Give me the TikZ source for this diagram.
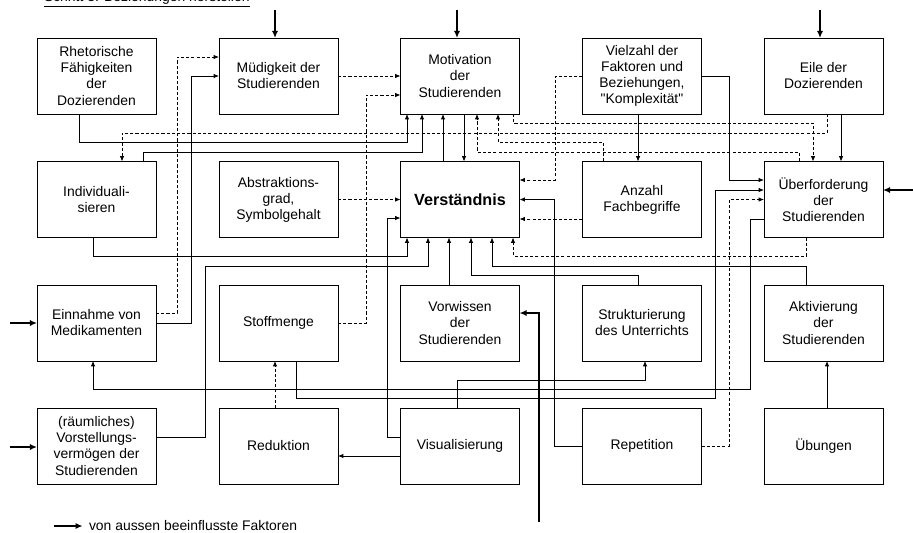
\documentclass[tikz,border=0pt]{standalone}
\usepackage{fontspec}
\setmainfont{Liberation Sans}[Ligatures=TeXOff]
\usetikzlibrary{arrows.meta}

\begin{document}
\begin{tikzpicture}[x=0.25mm,y=-0.25mm,inner sep=0pt,outer sep=0pt,line width=0.6pt,
>={Latex[length=3.8pt,width=3.2pt]},
faktor/.style={draw,rectangle,minimum width=29.75mm,minimum height=19mm,align=center,font=\fontsize{9.9}{11.4}\selectfont},
indirekt/.style={dash pattern=on 2.2pt off 1.5pt},
aussen/.style={-{Latex[length=5pt,width=4.4pt]},line width=1.4pt}]

\useasboundingbox (0,0) rectangle (913,532);

\draw (44,1.5) node[anchor=base west,font=\fontsize{9.9}{11.4}\selectfont] (titel) {\underline{Schritt 3: Beziehungen herstellen}};

% Faktoren
\draw (96.5,76) node[faktor] (rhet) {Rhetorische\\Fähigkeiten\\der\\Dozierenden};
\draw (278.5,76) node[faktor] (muedig) {Müdigkeit der\\Studierenden};
\draw (460,76) node[faktor] (motiv) {Motivation\\der\\Studierenden};
\draw (642,76) node[faktor] (viel) {Vielzahl der\\Faktoren und\\Beziehungen,\\"Komplexität"};
\draw (823.5,76) node[faktor] (eile) {Eile der\\Dozierenden};

\draw (96.5,199.5) node[faktor] (indiv) {Individuali-\\sieren};
\draw (278.5,199.5) node[faktor] (abstr) {Abstraktions-\\grad,\\Symbolgehalt};
\draw (460,199.5) node[faktor,font=\fontsize{11.5}{13}\selectfont\bfseries] (verst) {Verständnis};
\draw (642,199.5) node[faktor] (anzahl) {Anzahl\\Fachbegriffe};
\draw (823.5,199.5) node[faktor] (ueber) {Überforderung\\der\\Studierenden};

\draw (96.5,323) node[faktor] (einn) {Einnahme von\\Medikamenten};
\draw (278.5,323) node[faktor] (stoff) {Stoffmenge};
\draw (460,323) node[faktor] (vorwiss) {Vorwissen\\der\\Studierenden};
\draw (642,323) node[faktor] (strukt) {Strukturierung\\des Unterrichts};
\draw (823.5,323) node[faktor] (aktiv) {Aktivierung\\der\\Studierenden};

\draw (96.5,446) node[faktor] (vorst) {(räumliches)\\Vorstellungs-\\vermögen der\\Studierenden};
\draw (278.5,446) node[faktor] (reduk) {Reduktion};
\draw (460,446) node[faktor] (visual) {Visualisierung};
\draw (642,446) node[faktor] (repet) {Repetition};
\draw (823.5,446) node[faktor] (uebung) {Übungen};

% Einflüsse von aussen
\coordinate (inMued) at (275,10);
\coordinate (inMotiv) at (457,10);
\coordinate (inEile) at (820,10);
\coordinate (inUeber) at (913,190);
\coordinate (inEinn) at (10,323);
\coordinate (inVorst) at (10,447);
\coordinate (inVorwiss) at (539,522);
\draw[aussen] (inMued) -- (muedig.north -| inMued);
\draw[aussen] (inMotiv) -- (motiv.north -| inMotiv);
\draw[aussen] (inEile) -- (eile.north -| inEile);
\draw[aussen] (inUeber) -- (ueber.east |- inUeber);
\draw[aussen] (inEinn) -- (einn.west |- inEinn);
\draw[aussen] (inVorst) -- (vorst.west |- inVorst);
\draw[aussen] (inVorwiss) |- (vorwiss.east |- 0,313);

% Beziehungen
\draw[->] (rhet.south -| 79,0) |- (407,142) -- (motiv.south -| 407,0);
\draw[->,indirekt] (eile.south -| 827,0) |- (122,133) -- (indiv.north -| 122,0);
\draw[->] (indiv.north -| 143,0) |- (422,152) -- (motiv.south -| 422,0);
\draw[->,indirekt] (einn.east |- 0,313) -| (177,57) -- (muedig.west |- 0,57);
\draw[->] (einn.east) -| (191,76) -- (muedig.west);
\draw[->,indirekt] (muedig.east) -- (motiv.west);
\draw[->,indirekt] (stoff.east) -| (366,95) -- (motiv.west |- 0,95);
\draw[->] (motiv.south -| 464,0) -- (verst.north -| 464,0);
\draw[->] (verst.north -| 443,0) -- (motiv.south -| 443,0);
\draw[->,indirekt] (ueber.north -| 799,0) |- (477,152) -- (motiv.south -| 477,0);
\draw[->,indirekt] (anzahl.north -| 603,0) |- (498,142) -- (motiv.south -| 498,0);
\draw[->,indirekt] (motiv.south -| 513,0) |- (813,123) -- (ueber.north -| 813,0);
\draw[->,indirekt] (viel.west) -| (555,180) -- (verst.east |- 0,180);
\draw[->] (viel.east) -| (729,180) -- (ueber.west |- 0,180);
\draw[->] (viel.south -| 638,0) -- (anzahl.north -| 638,0);
\draw[->] (eile.south -| 841,0) -- (ueber.north -| 841,0);
\draw[->,indirekt] (anzahl.west |- 0,219) -- (verst.east |- 0,219);
\draw[->] (repet.west) -| (554,199.5) -- (verst.east);
\draw[->] (stoff.south -| 296,0) |- (715,398) |- (ueber.west |- 0,190);
\draw[->,indirekt] (repet.east) -| (729,199.5) -- (ueber.west |- 0,199.5);
\draw[->] (ueber.west |- 0,219) -| (750,389) -| (einn.south -| 93,0);
\draw[->] (visual.west |- 0,437) -| (387,218) -- (verst.west |- 0,218);
\draw[->] (visual.west |- 0,456) -- (reduk.east |- 0,456);
\draw[->] (visual.north -| 457,0) |- (645,380) -- (strukt.south -| 645,0);
\draw[->,indirekt] (reduk.north -| 275,0) -- (stoff.south -| 275,0);
\draw[->] (vorst.east |- 0,437) -| (205,266) -| (verst.south -| 428,0);
\draw[->] (indiv.south -| 93,0) |- (407,256) -- (verst.south -| 407,0);
\draw[->] (vorwiss.north -| 449,0) -- (verst.south -| 449,0);
\draw[->] (strukt.north -| 638,0) |- (471,275) -- (verst.south -| 471,0);
\draw[->] (aktiv.north -| 806,0) |- (492,266) -- (verst.south -| 492,0);
\draw[->,indirekt] (ueber.south -| 806,0) |- (513,256) -- (verst.south -| 513,0);
\draw[->] (uebung.north -| 827,0) -- (aktiv.south -| 827,0);
\draw[->,indirekt] (abstr.east) -- (verst.west);

% Legende
\draw (89,526) node[anchor=west,font=\fontsize{9.9}{11.4}\selectfont] (legende) {von aussen beeinflusste Faktoren};
\draw[aussen] (54,526) -- ([xshift=-1.6mm]legende.west);
\end{tikzpicture}
\end{document}
